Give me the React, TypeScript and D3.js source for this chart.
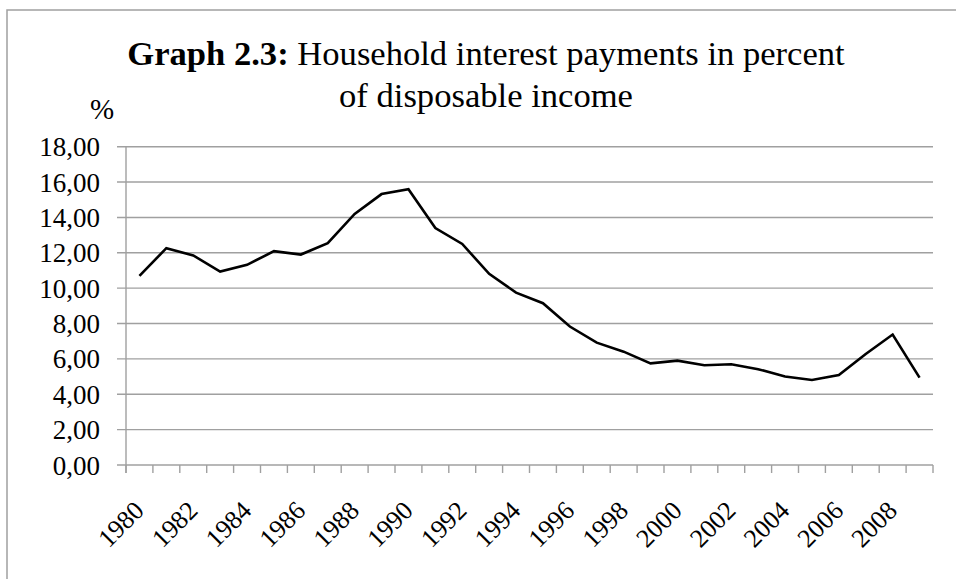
import React from "react";
import * as d3 from "d3";

const years: number[] = d3.range(1980, 2010);
const values: number[] = [
  10.7, 12.26, 11.85, 10.94, 11.32, 12.09, 11.9, 12.55, 14.2, 15.32,
  15.6, 13.4, 12.5, 10.81, 9.75, 9.15, 7.83, 6.92, 6.41, 5.75,
  5.9, 5.64, 5.7, 5.42, 5.0, 4.81, 5.09, 6.28, 7.38, 4.94,
];
const yTicks: number[] = [0, 2, 4, 6, 8, 10, 12, 14, 16, 18];
const xLabelYears: number[] = years.filter((y) => (y - 1980) % 2 === 0);
const titleBold = "Graph 2.3:";
const titleRest = " Household interest payments in percent";
const titleLine2 = "of disposable income";
const yUnit = "%";

const W = 956;
const H = 579;
const plot = { left: 126, right: 933, top: 146.7, bottom: 465 };

export default function App() {
  const x = d3
    .scaleBand<number>()
    .domain(years)
    .range([plot.left, plot.right])
    .paddingInner(0)
    .paddingOuter(0);
  const y = d3.scaleLinear().domain([0, 18]).range([plot.bottom, plot.top]);
  const cx = (yr: number) => (x(yr) as number) + x.bandwidth() / 2;

  const line = d3
    .line<number>()
    .x((_, i) => cx(years[i]))
    .y((v) => y(v));

  const tickXs = years.map((yr) => x(yr) as number).concat([plot.right]);
  const serif = "'Liberation Serif', 'Times New Roman', serif";
  const grid = "#a0a0a0";

  return (
    <svg
      width={W}
      height={H}
      style={{ position: "absolute", left: 0, top: 0, background: "#fff" }}
    >
      <rect x={0} y={0} width={W} height={H} fill="#fff" />
      <rect
        x={7}
        y={10}
        width={1200}
        height={1200}
        fill="none"
        stroke="#a0a0a0"
        strokeWidth={1.5}
      />
      <text
        x={486}
        y={65}
        textAnchor="middle"
        fontFamily={serif}
        fontSize={34.6}
        fill="#000"
      >
        <tspan fontWeight="bold">{titleBold}</tspan>
        <tspan>{titleRest}</tspan>
      </text>
      <text
        x={486}
        y={107}
        textAnchor="middle"
        fontFamily={serif}
        fontSize={34.6}
        fill="#000"
      >
        {titleLine2}
      </text>
      <text x={90} y={119} fontFamily={serif} fontSize={29} fill="#000">
        {yUnit}
      </text>

      {yTicks.map((t) => (
        <g key={t}>
          <line
            x1={117}
            x2={plot.right}
            y1={y(t)}
            y2={y(t)}
            stroke={grid}
            strokeWidth={1.4}
          />
          <text
            x={100}
            y={y(t) + 9.5}
            textAnchor="end"
            fontFamily={serif}
            fontSize={27}
            fill="#000"
          >
            {d3.format(".2f")(t).replace(".", ",")}
          </text>
        </g>
      ))}

      <line
        x1={plot.left}
        x2={plot.left}
        y1={plot.top}
        y2={plot.bottom + 8}
        stroke={grid}
        strokeWidth={1.4}
      />
      {tickXs.map((tx, i) => (
        <line
          key={i}
          x1={tx}
          x2={tx}
          y1={plot.bottom}
          y2={plot.bottom + 8}
          stroke={grid}
          strokeWidth={1.4}
        />
      ))}

      <path
        d={line(values) || ""}
        fill="none"
        stroke="#000"
        strokeWidth={2.6}
        strokeLinejoin="miter"
      />

      {xLabelYears.map((yr) => (
        <text
          key={yr}
          transform={`translate(${cx(yr) + 6},${512}) rotate(-45)`}
          textAnchor="end"
          fontFamily={serif}
          fontSize={26}
          fill="#000"
        >
          {yr}
        </text>
      ))}
    </svg>
  );
}
